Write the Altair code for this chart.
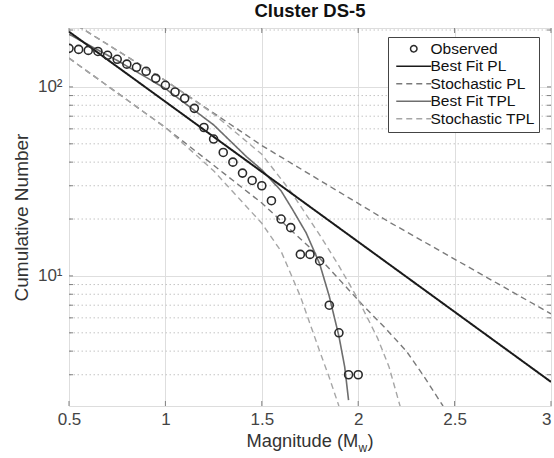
import altair as alt
import pandas as pd

# ---------------- data ----------------
obs_mag = [0.5, 0.55, 0.6, 0.65, 0.7, 0.75, 0.8, 0.85, 0.9, 0.95, 1.0, 1.05, 1.1, 1.15,
           1.2, 1.25, 1.3, 1.35, 1.4, 1.45, 1.5, 1.55, 1.6, 1.65, 1.7, 1.75, 1.8, 1.85,
           1.9, 1.95, 2.0]
obs_count = [160, 158, 156, 154, 147, 140, 132, 127, 121, 111, 102, 94, 87, 77,
             61, 53, 45, 40, 35, 32, 30, 25, 20, 18, 13, 13, 12, 7, 5, 3, 3]

pl_mag = [0.5, 3.0]
pl_count = [196, 2.75]

tpl_mag = [0.5, 0.75, 1.0, 1.25, 1.42, 1.5, 1.6, 1.66, 1.73, 1.8, 1.85, 1.9, 1.93, 1.95]
tpl_count = [190, 138, 98, 63, 42.8, 36.4, 28.2, 22.4, 16.9, 11.6, 7.8, 4.8, 3.3, 2.2]

spl_up_mag = [0.5, 0.8, 1.0, 1.5, 2.16, 3.0]
spl_up_count = [225, 145, 108, 49, 19.3, 6.3]
spl_lo_mag = [0.5, 1.0, 1.25, 1.5, 1.75, 2.03, 2.14, 2.25, 2.34, 2.44]
spl_lo_count = [142, 61, 38.5, 24.3, 14.1, 6.9, 5.3, 4.0, 2.95, 2.05]

stpl_up_mag = [0.5, 1.0, 1.25, 1.5, 1.65, 1.8, 1.9, 2.0, 2.1, 2.16, 2.22]
stpl_up_count = [225, 108, 72, 44, 28, 16.5, 11.3, 7.5, 4.7, 3.3, 2.0]
stpl_lo_mag = [0.5, 1.0, 1.25, 1.5, 1.6, 1.7, 1.8, 1.85, 1.9]
stpl_lo_count = [142, 61, 36, 19, 13.5, 7.8, 4.0, 2.9, 2.05]

x_ticks = [0.5, 1, 1.5, 2, 2.5, 3]
y_major = [10, 100]
y_minor = [3, 4, 5, 6, 7, 8, 9, 20, 30, 40, 50, 60, 70, 80, 90, 200]

series_names = ["Observed", "Best Fit PL", "Stochastic PL", "Best Fit TPL", "Stochastic TPL"]

# ---------------- styling ----------------
FONT = "Liberation Sans"
W, H = 482, 378
series_colors = ["#2a2a2a", "#1a1a1a", "#7a7a7a", "#6e6e6e", "#a6a6a6"]
CIRCLE = "M-0.8,0A0.8,0.8,0,1,1,0.8,0A0.8,0.8,0,1,1,-0.8,0Z"
LINE = "M-4.375,0L4.375,0"
shapes = [CIRCLE, LINE, LINE, LINE, LINE]
dashes = [[1, 0], [1, 0], [6, 4], [1, 0], [6, 4]]

color_scale = alt.Scale(domain=series_names, range=series_colors)
shape_scale = alt.Scale(domain=series_names, range=shapes)
dash_scale = alt.Scale(domain=series_names, range=dashes)

legend = alt.Legend(
    title=None, orient="none", legendX=319, legendY=9, direction="vertical",
    fillColor="white", strokeColor="#444444", padding=4, cornerRadius=0,
    labelFont=FONT, labelFontSize=15.5, labelColor="#111111",
    symbolSize=64, symbolStrokeWidth=1.5, symbolOffset=14, labelOffset=9,
    rowPadding=0.5,
)

x_scale = alt.Scale(type="linear", domain=[0.5, 3], nice=False, zero=False)
y_scale = alt.Scale(type="log", domain=[2.05, 205], nice=False)

x_axis = alt.Axis(
    values=x_ticks, format="~g", grid=True, gridColor="#dedede", gridWidth=1,
    ticks=False, domain=False, labelFont=FONT, labelFontSize=17, labelColor="#444444",
    labelPadding=5, title=None, labelFlush=False,
    labelAlign={"condition": {"test": "datum.value == 3", "value": "right"}, "value": "center"},
)
y_axis = alt.Axis(
    values=y_major, labelExpr="datum.value == 10 ? '10¹' : '10²'", grid=True,
    gridColor="#dedede", gridWidth=1, ticks=False, domain=False,
    labelFont=FONT, labelFontSize=17, labelColor="#444444", labelPadding=7,
    title="Cumulative Number", titleFont=FONT, titleFontSize=19, titleFontWeight="normal",
    titleColor="#333333", titleX=-42, titleY=H / 2, titleAngle=-90,
    titleBaseline="alphabetic", titleAlign="center",
)

XQ = lambda f: alt.X(f, type="quantitative", scale=x_scale, axis=x_axis)
YQ = lambda f: alt.Y(f, type="quantitative", scale=y_scale, axis=y_axis)

# ---------------- tables ----------------
obs_df = pd.DataFrame({"mag": obs_mag, "count": obs_count, "series": "Observed"})


def curve(mags, counts, name, cid):
    return pd.DataFrame({"mag": mags, "count": counts, "series": name, "cid": cid})


pl_df = curve(pl_mag, pl_count, "Best Fit PL", "pl")
tplbest_df = curve(tpl_mag, tpl_count, "Best Fit TPL", "tpl")
stoch_df = pd.concat([
    curve(spl_up_mag, spl_up_count, "Stochastic PL", "spl_up"),
    curve(spl_lo_mag, spl_lo_count, "Stochastic PL", "spl_lo"),
    curve(stpl_up_mag, stpl_up_count, "Stochastic TPL", "stpl_up"),
    curve(stpl_lo_mag, stpl_lo_count, "Stochastic TPL", "stpl_lo"),
])

xt_df = pd.DataFrame({"v": x_ticks})
ymin_df = pd.DataFrame({"v": y_minor})
yall_df = pd.DataFrame({"v": y_major + y_minor})

# ---------------- layers ----------------
minor_grid = alt.Chart(ymin_df).mark_rule(
    color="#c4c4c4", strokeDash=[1.5, 2.5], strokeWidth=1
).encode(y=YQ("v"))

# inner tick marks (MATLAB style)
ytick_l = alt.Chart(yall_df).mark_rule(color="#808080").encode(
    y=YQ("v"), x=alt.value(0), x2=alt.value(4))
ytick_r = alt.Chart(yall_df).mark_rule(color="#808080").encode(
    y=YQ("v"), x=alt.value(W - 4), x2=alt.value(W))
xtick_b = alt.Chart(xt_df).mark_rule(color="#808080").encode(
    x=XQ("v"), y=alt.value(H - 5), y2=alt.value(H))
xtick_t = alt.Chart(xt_df).mark_rule(color="#808080").encode(
    x=XQ("v"), y=alt.value(0), y2=alt.value(5))

enc_common = dict(
    color=alt.Color("series:N", scale=color_scale, legend=legend),
    strokeDash=alt.StrokeDash("series:N", scale=dash_scale, legend=legend),
)

stoch_lines = alt.Chart(stoch_df).mark_line(strokeWidth=1.4, clip=True).encode(
    x=XQ("mag"), y=YQ("count"), detail="cid:N", **enc_common)
tpl_line = alt.Chart(tplbest_df).mark_line(strokeWidth=1.6, clip=True).encode(
    x=XQ("mag"), y=YQ("count"), **enc_common)
pl_line = alt.Chart(pl_df).mark_line(strokeWidth=2.0, clip=True).encode(
    x=XQ("mag"), y=YQ("count"), **enc_common)
points = alt.Chart(obs_df).mark_point(
    filled=False, size=100, strokeWidth=1.6, opacity=1, clip=True
).encode(
    x=XQ("mag"), y=YQ("count"),
    color=alt.Color("series:N", scale=color_scale, legend=legend),
    shape=alt.Shape("series:N", scale=shape_scale, legend=legend),
)

# x-axis title with subscript
xt1 = alt.Chart(pd.DataFrame({"t": ["Magnitude (M"]})).mark_text(
    font=FONT, fontSize=18.3, color="#333333", align="left", baseline="alphabetic"
).encode(text="t:N", x=alt.value(177.5), y=alt.value(H + 41))
xt2 = alt.Chart(pd.DataFrame({"t": ["w"]})).mark_text(
    font=FONT, fontSize=12, color="#333333", align="left", baseline="alphabetic"
).encode(text="t:N", x=alt.value(289.5), y=alt.value(H + 46))
xt3 = alt.Chart(pd.DataFrame({"t": [")"]})).mark_text(
    font=FONT, fontSize=18.3, color="#333333", align="left", baseline="alphabetic"
).encode(text="t:N", x=alt.value(298.5), y=alt.value(H + 41))

chart = alt.layer(
    minor_grid, ytick_l, ytick_r, xtick_b, xtick_t,
    stoch_lines, tpl_line, pl_line, points, xt1, xt2, xt3,
).resolve_scale(
    color="shared", shape="shared", strokeDash="shared"
).properties(
    width=W, height=H,
    title=alt.TitleParams("Cluster DS-5", font=FONT, fontSize=18.5, fontWeight="bold",
                          color="#111111", offset=7, anchor="middle", frame="group"),
    padding={"left": 69, "top": 28, "right": 3, "bottom": 52},
    autosize=alt.AutoSizeParams(type="none"),
).configure_view(stroke="#7a7a7a", strokeWidth=1.2).configure(background="white")

chart.save("out.html", embed_options={"renderer": "svg", "actions": False})
